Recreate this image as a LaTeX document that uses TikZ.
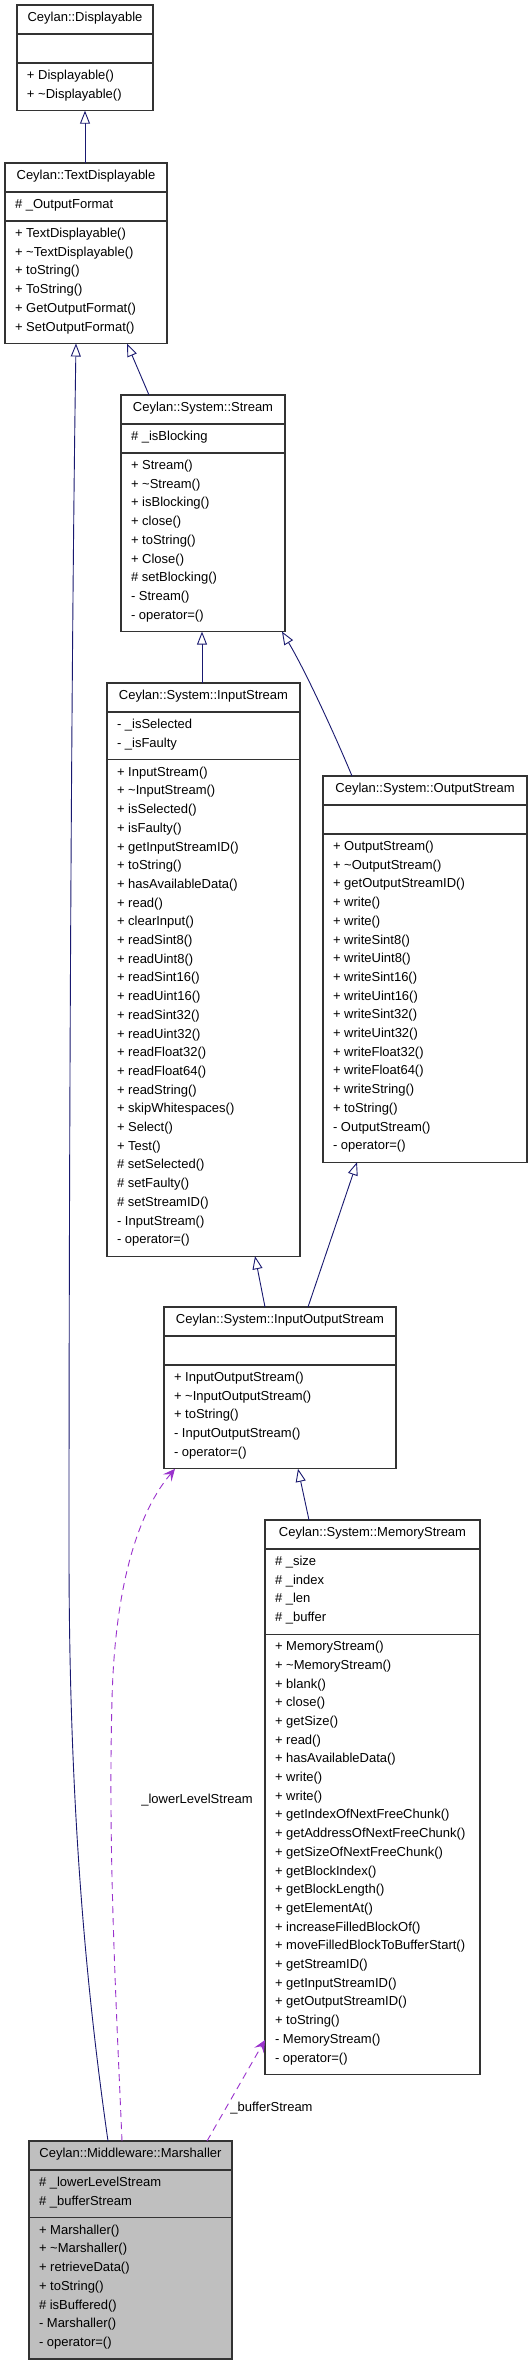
\documentclass[tikz,border=0pt]{standalone}
\usepackage{fontspec}
\setmainfont{Liberation Sans}
\usetikzlibrary{arrows.meta}
\definecolor{navyline}{RGB}{25,25,112}
\definecolor{assocline}{RGB}{154,50,205}
\definecolor{boxline}{RGB}{51,51,51}
\definecolor{hilite}{RGB}{191,191,191}
\def\boxfill{white}
\newcommand\umlclass[9]{%
  \pgfmathsetmacro\secA{(#5==0) ? 29 : (#5*18.7+10.3)}%
  \pgfmathsetmacro\secM{#6*18.7+10.3}%
  \pgfmathsetmacro\lineA{#3+29}%
  \pgfmathsetmacro\lineB{#3+29+\secA}%
  \pgfmathsetmacro\boxH{29+\secA+\secM}%
  \pgfmathsetmacro\boxR{#2+#4}%
  \pgfmathsetmacro\boxC{#2+#4/2}%
  \node[cbox, fill=\boxfill, minimum width=#4pt, minimum height=\boxH pt, anchor=north west] (#1) at (#2,#3) {};
  \draw[sep] (#2,\lineA) -- (\boxR,\lineA);
  \draw[sep] (#2,\lineB) -- (\boxR,\lineB);
  \node[ttl] (#1-title) at (\boxC,{#3+16.5}) {#7};
  \ifnum#5>0
    \foreach \t [count=\i from 0] in {#8} {\node[mem] (#1-a\i) at ({#2+10},{\lineA+16.5+18.7*\i}) {\t};}
  \fi
  \foreach \t [count=\i from 0] in {#9} {\node[mem] (#1-m\i) at ({#2+10},{\lineB+16.5+18.7*\i}) {\t};}
}
\begin{document}
\begin{tikzpicture}[x=1pt,y=-1pt,
  every node/.style={font=\fontsize{13}{15}\selectfont, inner sep=0pt, outer sep=0pt},
  cbox/.style={draw=boxline, line width=1.2pt},
  sep/.style={draw=boxline, line width=1.2pt},
  ttl/.style={anchor=base},
  mem/.style={anchor=base west},
  lbl/.style={anchor=base},
  inh/.style={draw=navyline, line width=0.9pt, -{Triangle[length=13pt,width=10pt,fill=white]}},
  assoc/.style={draw=assocline, line width=0.9pt, dash pattern=on 7pt off 5pt, -{Stealth[length=12pt,width=11pt,inset=5pt]}}
]
\fill[white] (0,0) rectangle (531,2365);
\useasboundingbox (0,0) rectangle (531,2365);

\umlclass{disp}{17}{5}{136}{0}{2}{Ceylan::Displayable}{}{+ Displayable(), + \textasciitilde Displayable()}
\umlclass{textd}{5}{163}{162}{1}{6}{Ceylan::TextDisplayable}{\# \_OutputFormat}{+ TextDisplayable(), + \textasciitilde TextDisplayable(), + toString(), + ToString(), + GetOutputFormat(), + SetOutputFormat()}
\umlclass{stream}{121}{395}{164}{1}{9}{Ceylan::System::Stream}{\# \_isBlocking}{+ Stream(), + \textasciitilde Stream(), + isBlocking(), + close(), + toString(), + Close(), \# setBlocking(), - Stream(), - operator=()}
\umlclass{instream}{107}{683}{193}{2}{26}{Ceylan::System::InputStream}{- \_isSelected, - \_isFaulty}{+ InputStream(), + \textasciitilde InputStream(), + isSelected(), + isFaulty(), + getInputStreamID(), + toString(), + hasAvailableData(), + read(), + clearInput(), + readSint8(), + readUint8(), + readSint16(), + readUint16(), + readSint32(), + readUint32(), + readFloat32(), + readFloat64(), + readString(), + skipWhitespaces(), + Select(), + Test(), \# setSelected(), \# setFaulty(), \# setStreamID(), - InputStream(), - operator=()}
\umlclass{outstream}{323}{776}{204}{0}{17}{Ceylan::System::OutputStream}{}{+ OutputStream(), + \textasciitilde OutputStream(), + getOutputStreamID(), + write(), + write(), + writeSint8(), + writeUint8(), + writeSint16(), + writeUint16(), + writeSint32(), + writeUint32(), + writeFloat32(), + writeFloat64(), + writeString(), + toString(), - OutputStream(), - operator=()}
\umlclass{ios}{164}{1307}{232}{0}{5}{Ceylan::System::InputOutputStream}{}{+ InputOutputStream(), + \textasciitilde InputOutputStream(), + toString(), - InputOutputStream(), - operator=()}
\umlclass{mem}{265}{1520}{215}{4}{23}{Ceylan::System::MemoryStream}{\# \_size, \# \_index, \# \_len, \# \_buffer}{+ MemoryStream(), + \textasciitilde MemoryStream(), + blank(), + close(), + getSize(), + read(), + hasAvailableData(), + write(), + write(), + getIndexOfNextFreeChunk(), + getAddressOfNextFreeChunk(), + getSizeOfNextFreeChunk(), + getBlockIndex(), + getBlockLength(), + getElementAt(), + increaseFilledBlockOf(), + moveFilledBlockToBufferStart(), + getStreamID(), + getInputStreamID(), + getOutputStreamID(), + toString(), - MemoryStream(), - operator=()}
\def\boxfill{hilite}
\umlclass{marsh}{29}{2141}{203}{2}{7}{Ceylan::Middleware::Marshaller}{\# \_lowerLevelStream, \# \_bufferStream}{+ Marshaller(), + \textasciitilde Marshaller(), + retrieveData(), + toString(), \# isBuffered(), - Marshaller(), - operator=()}

% inheritance
\draw[inh] ([xshift=80pt]textd.north west) -- ([xshift=68pt]disp.south west);
\draw[inh] ([xshift=28pt]stream.north west) -- ([xshift=122pt]textd.south west);
\draw[inh] ([xshift=95pt]instream.north west) -- ([xshift=81pt]stream.south west);
\draw[inh] ([xshift=29pt]outstream.north west) .. controls (335,735) and (305,670) .. ([xshift=161pt]stream.south west);
\draw[inh] ([xshift=101pt]ios.north west) -- ([xshift=148pt]instream.south west);
\draw[inh] ([xshift=144pt]ios.north west) -- ([xshift=34pt]outstream.south west);
\draw[inh] ([xshift=44pt]mem.north west) -- ([xshift=134pt]ios.south west);
\draw[inh] ([xshift=79pt]marsh.north west) .. controls (85,1980) and (69,1800) .. (69,1550) .. controls (69,1100) and (72,600) .. ([xshift=71pt]textd.south west);

% associations
\draw[assoc] ([xshift=93pt]marsh.north west) .. controls (116,2000) and (108,1850) .. (112,1700) .. controls (115,1580) and (140,1510) .. ([xshift=11pt]ios.south west);
\draw[assoc] ([xshift=178pt]marsh.north west) -- ([yshift=-520pt]mem.north west);
\node[lbl] (lowlbl) at (197,1803.5) {\_lowerLevelStream};
\node[lbl] (buflbl) at (271.5,2111.5) {\_bufferStream};
\end{tikzpicture}
\end{document}
